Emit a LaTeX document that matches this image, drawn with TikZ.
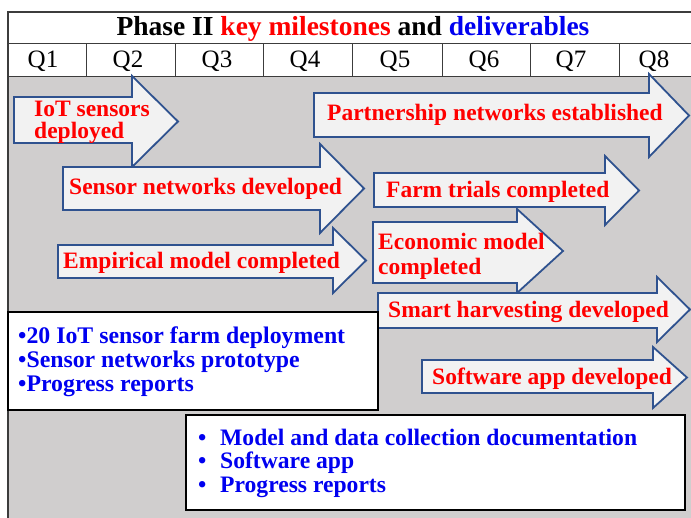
\documentclass[tikz,border=0pt]{standalone}
\usepackage{fontspec}
\setmainfont{Liberation Serif}
\definecolor{bg}{RGB}{208,206,206}
\definecolor{afill}{RGB}{242,242,242}
\definecolor{aline}{RGB}{47,82,143}
\definecolor{myred}{RGB}{255,0,0}
\definecolor{myblue}{RGB}{0,0,240}
\definecolor{gridc}{RGB}{60,60,60}
% name, x0, ytop, ybot, xhead, yheadtop, yheadbot, xtip
\newcommand\blockarr[8]{%
  \draw[arrowshape] (#2,#3) -- (#5,#3) -- (#5,#6) -- (#8,{(#6+#7)/2}) -- (#5,#7) -- (#5,#4) -- (#2,#4) -- cycle;
  \coordinate (#1) at ({(#2+#5)/2},{(#3+#4)/2});}
\tikzset{
  arrowshape/.style={draw=aline, fill=afill, line width=1.8pt, line join=miter},
  mtext/.style={text=myred, font=\fontsize{23.5}{24}\selectfont\bfseries, inner sep=0pt, yshift=-2pt},
  dtext/.style={text=myblue, font=\fontsize{23.8}{24}\selectfont\bfseries, inner sep=0pt, align=left, yshift=-2.5pt},
  qlab/.style={font=\fontsize{25}{26}\selectfont, inner sep=0pt},
  dbox/.style={draw=black, fill=white, line width=1.2pt},
}
\begin{document}
\begin{tikzpicture}[x=1pt,y=-1pt]
\useasboundingbox (0,0) rectangle (691,518);
% body
\fill[bg] (8,77) rectangle (691,518);
\fill[white] (8,12) rectangle (691,77);
\draw[gridc, line width=1.4pt] (8,518) -- (8,12) -- (691,12);
\draw[gridc, line width=1pt] (8,44) -- (691,44);
\draw[gridc, line width=1pt] (8,77) -- (691,77);
\foreach \xx in {86,175,263,352,442,530,619} \draw[gridc, line width=0.8pt] (\xx,44) -- (\xx,77);
% title
\node[font=\fontsize{27.5}{28}\selectfont\bfseries, inner sep=0pt] (title) at (353,29)
  {Phase II \textcolor{myred}{key milestones} and \textcolor{myblue}{deliverables}};
% quarters
\foreach \q/\xx in {1/43,2/128,3/217,4/305,5/395,6/484,7/571,8/654}
  \node[qlab] (q\q) at (\xx,61) {Q\q};
% arrows
\blockarr{a1}{14}{97}{143}{132}{76}{167}{178}
\blockarr{a4}{314}{93}{137}{649}{74}{157}{689}
\blockarr{a2}{63}{167}{210}{320}{144}{233}{364}
\blockarr{a5}{374}{173}{207}{605}{156}{225}{639}
\blockarr{a3}{58}{245}{278}{333}{228}{293}{366}
\blockarr{a6}{373}{222}{283}{517}{209}{293}{563}
\blockarr{a7}{378}{293}{328}{657}{277}{342}{690}
\blockarr{a8}{422}{360}{393}{653}{347}{408}{687}
% arrow labels
\node[mtext, anchor=west, align=left, font=\fontsize{23.5}{22}\selectfont\bfseries] (t1) at (34,120) {IoT sensors\\deployed};
\node[mtext, anchor=west] (t4) at (327,113) {Partnership networks established};
\node[mtext, anchor=west] (t2) at (69,187) {Sensor networks developed};
\node[mtext, anchor=west] (t5) at (386,190) {Farm trials completed};
\node[mtext, anchor=west] (t3) at (63,261) {Empirical model completed};
\node[mtext, anchor=west, align=left, font=\fontsize{23.5}{25}\selectfont\bfseries] (t6) at (378,254) {Economic model\\completed};
\node[mtext, anchor=west] (t7) at (388,310) {Smart harvesting developed};
\node[mtext, anchor=west] (t8) at (432,377) {Software app developed};
% deliverables
\draw[dbox] (8,312) rectangle (378,410);
\node[dtext, anchor=west] (d1) at (18,359)
  {•20 IoT sensor farm deployment\\•Sensor networks prototype\\•Progress reports};
\draw[dbox] (186,415) rectangle (685,510);
\node[dtext, anchor=west, font=\fontsize{23.6}{23.5}\selectfont\bfseries] (d2) at (196,460.5)
  {\makebox[24pt][l]{\hspace{2pt}•}Model and data collection documentation\\
   \makebox[24pt][l]{\hspace{2pt}•}Software app\\
   \makebox[24pt][l]{\hspace{2pt}•}Progress reports};
\end{tikzpicture}
\end{document}
